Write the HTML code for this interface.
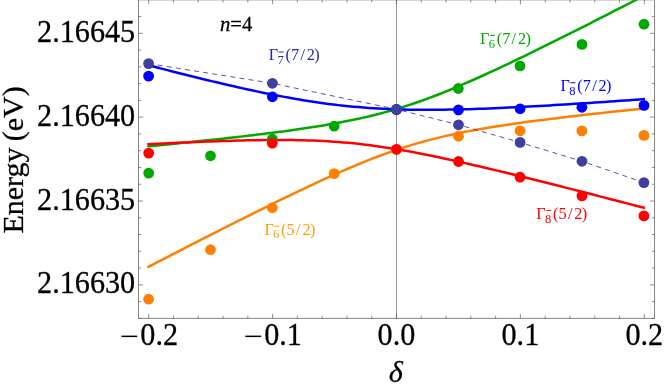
<!DOCTYPE html>
<html><head><meta charset="utf-8"><title>chart</title>
<style>
html,body{margin:0;padding:0;background:#fff;}
body{width:664px;height:390px;overflow:hidden;}
svg{display:block;font-family:"Liberation Serif",serif;will-change:transform;}
</style></head><body>
<svg width="664" height="390" viewBox="0 0 664 390">
<rect width="664" height="390" fill="#fff"/>
<!-- zero line -->
<line x1="396.5" y1="0" x2="396.5" y2="318.4" stroke="#808080" stroke-width="0.8"/>
<!-- curves -->
<g fill="none" stroke-width="2.5" stroke-linecap="butt" stroke-linejoin="round">
<path d="M147.30,267.43 L152.33,264.83 L157.35,262.23 L162.38,259.64 L167.41,257.05 L172.44,254.46 L177.46,251.87 L182.49,249.28 L187.52,246.70 L192.55,244.13 L197.57,241.55 L202.60,238.98 L207.63,236.42 L212.65,233.86 L217.68,231.30 L222.71,228.75 L227.74,226.21 L232.76,223.67 L237.79,221.14 L242.82,218.61 L247.85,216.09 L252.87,213.58 L257.90,211.08 L262.93,208.59 L267.95,206.10 L272.98,203.63 L278.01,201.16 L283.04,198.71 L288.06,196.27 L293.09,193.85 L298.12,191.44 L303.15,189.05 L308.17,186.67 L313.20,184.31 L318.23,181.98 L323.25,179.66 L328.28,177.37 L333.31,175.11 L338.34,172.87 L343.36,170.67 L348.39,168.50 L353.42,166.36 L358.45,164.26 L363.47,162.20 L368.50,160.18 L373.53,158.21 L378.55,156.29 L383.58,154.42 L388.61,152.60 L393.64,150.84 L398.66,149.14 L403.69,147.49 L408.72,145.90 L413.75,144.37 L418.77,142.90 L423.80,141.49 L428.83,140.14 L433.85,138.84 L438.88,137.59 L443.91,136.40 L448.94,135.26 L453.96,134.16 L458.99,133.11 L464.02,132.09 L469.05,131.12 L474.07,130.18 L479.10,129.28 L484.13,128.40 L489.15,127.56 L494.18,126.74 L499.21,125.95 L504.24,125.17 L509.26,124.42 L514.29,123.69 L519.32,122.98 L524.35,122.28 L529.37,121.60 L534.40,120.93 L539.43,120.28 L544.45,119.64 L549.48,119.01 L554.51,118.39 L559.54,117.77 L564.56,117.17 L569.59,116.58 L574.62,115.99 L579.65,115.42 L584.67,114.84 L589.70,114.28 L594.73,113.72 L599.75,113.17 L604.78,112.62 L609.81,112.07 L614.84,111.54 L619.86,111.00 L624.89,110.47 L629.92,109.94 L634.95,109.42 L639.97,108.90 L645.00,108.39" stroke="#ff8000"/>
<path d="M147.30,146.38 L152.33,145.89 L157.35,145.39 L162.38,144.90 L167.41,144.40 L172.44,143.89 L177.46,143.39 L182.49,142.88 L187.52,142.36 L192.55,141.85 L197.57,141.32 L202.60,140.80 L207.63,140.26 L212.65,139.73 L217.68,139.18 L222.71,138.64 L227.74,138.08 L232.76,137.52 L237.79,136.95 L242.82,136.37 L247.85,135.79 L252.87,135.19 L257.90,134.59 L262.93,133.97 L267.95,133.35 L272.98,132.71 L278.01,132.06 L283.04,131.40 L288.06,130.72 L293.09,130.02 L298.12,129.31 L303.15,128.58 L308.17,127.83 L313.20,127.05 L318.23,126.25 L323.25,125.43 L328.28,124.57 L333.31,123.69 L338.34,122.77 L343.36,121.82 L348.39,120.83 L353.42,119.80 L358.45,118.73 L363.47,117.61 L368.50,116.45 L373.53,115.23 L378.55,113.96 L383.58,112.64 L388.61,111.26 L393.64,109.82 L398.66,108.32 L403.69,106.76 L408.72,105.15 L413.75,103.47 L418.77,101.74 L423.80,99.96 L428.83,98.11 L433.85,96.22 L438.88,94.28 L443.91,92.29 L448.94,90.26 L453.96,88.18 L458.99,86.06 L464.02,83.91 L469.05,81.73 L474.07,79.51 L479.10,77.26 L484.13,74.99 L489.15,72.69 L494.18,70.37 L499.21,68.03 L504.24,65.66 L509.26,63.28 L514.29,60.88 L519.32,58.47 L524.35,56.04 L529.37,53.60 L534.40,51.15 L539.43,48.68 L544.45,46.20 L549.48,43.72 L554.51,41.22 L559.54,38.71 L564.56,36.20 L569.59,33.68 L574.62,31.15 L579.65,28.62 L584.67,26.08 L589.70,23.53 L594.73,20.98 L599.75,18.43 L604.78,15.86 L609.81,13.30 L614.84,10.73 L619.86,8.15 L624.89,5.58 L629.92,2.99 L634.95,0.41 L639.97,-2.18 L645.00,-4.77" stroke="#00a900"/>
<path d="M147.30,144.27 L152.33,144.02 L157.35,143.77 L162.38,143.53 L167.41,143.30 L172.44,143.06 L177.46,142.83 L182.49,142.61 L187.52,142.39 L192.55,142.18 L197.57,141.98 L202.60,141.78 L207.63,141.58 L212.65,141.40 L217.68,141.22 L222.71,141.05 L227.74,140.90 L232.76,140.75 L237.79,140.61 L242.82,140.48 L247.85,140.37 L252.87,140.27 L257.90,140.18 L262.93,140.11 L267.95,140.06 L272.98,140.03 L278.01,140.01 L283.04,140.02 L288.06,140.05 L293.09,140.10 L298.12,140.18 L303.15,140.29 L308.17,140.43 L313.20,140.61 L318.23,140.81 L323.25,141.05 L328.28,141.33 L333.31,141.65 L338.34,142.01 L343.36,142.41 L348.39,142.85 L353.42,143.34 L358.45,143.86 L363.47,144.44 L368.50,145.05 L373.53,145.71 L378.55,146.40 L383.58,147.14 L388.61,147.91 L393.64,148.72 L398.66,149.56 L403.69,150.44 L408.72,151.35 L413.75,152.28 L418.77,153.25 L423.80,154.24 L428.83,155.25 L433.85,156.28 L438.88,157.33 L443.91,158.41 L448.94,159.50 L453.96,160.60 L458.99,161.72 L464.02,162.86 L469.05,164.00 L474.07,165.16 L479.10,166.33 L484.13,167.51 L489.15,168.70 L494.18,169.90 L499.21,171.11 L504.24,172.32 L509.26,173.54 L514.29,174.77 L519.32,176.01 L524.35,177.25 L529.37,178.49 L534.40,179.74 L539.43,181.00 L544.45,182.26 L549.48,183.52 L554.51,184.79 L559.54,186.06 L564.56,187.34 L569.59,188.61 L574.62,189.89 L579.65,191.18 L584.67,192.47 L589.70,193.76 L594.73,195.05 L599.75,196.34 L604.78,197.64 L609.81,198.94 L614.84,200.24 L619.86,201.54 L624.89,202.85 L629.92,204.15 L634.95,205.46 L639.97,206.77 L645.00,208.08" stroke="#ff0000"/>
<path d="M147.30,64.94 L152.33,66.25 L157.35,67.55 L162.38,68.85 L167.41,70.14 L172.44,71.42 L177.46,72.70 L182.49,73.97 L187.52,75.23 L192.55,76.48 L197.57,77.72 L202.60,78.95 L207.63,80.17 L212.65,81.38 L217.68,82.58 L222.71,83.76 L227.74,84.94 L232.76,86.09 L237.79,87.23 L242.82,88.36 L247.85,89.47 L252.87,90.56 L257.90,91.63 L262.93,92.68 L267.95,93.70 L272.98,94.71 L278.01,95.69 L283.04,96.64 L288.06,97.57 L293.09,98.47 L298.12,99.34 L303.15,100.18 L308.17,100.99 L313.20,101.77 L318.23,102.51 L323.25,103.22 L328.28,103.89 L333.31,104.52 L338.34,105.12 L343.36,105.67 L348.39,106.19 L353.42,106.68 L358.45,107.12 L363.47,107.53 L368.50,107.90 L373.53,108.23 L378.55,108.53 L383.58,108.80 L388.61,109.03 L393.64,109.22 L398.66,109.39 L403.69,109.53 L408.72,109.63 L413.75,109.71 L418.77,109.77 L423.80,109.80 L428.83,109.80 L433.85,109.79 L438.88,109.75 L443.91,109.69 L448.94,109.61 L453.96,109.52 L458.99,109.41 L464.02,109.28 L469.05,109.14 L474.07,108.98 L479.10,108.81 L484.13,108.63 L489.15,108.44 L494.18,108.23 L499.21,108.02 L504.24,107.79 L509.26,107.56 L514.29,107.31 L519.32,107.06 L524.35,106.81 L529.37,106.54 L534.40,106.27 L539.43,105.99 L544.45,105.70 L549.48,105.41 L554.51,105.11 L559.54,104.81 L564.56,104.50 L569.59,104.19 L574.62,103.87 L579.65,103.55 L584.67,103.23 L589.70,102.90 L594.73,102.57 L599.75,102.23 L604.78,101.89 L609.81,101.55 L614.84,101.20 L619.86,100.86 L624.89,100.51 L629.92,100.15 L634.95,99.79 L639.97,99.44 L645.00,99.07" stroke="#0000ff"/>
</g>
<polyline points="148.6,63.6 272.4,83.3 396.5,109.3 458.5,124.8 520.1,142.4 582.0,161.3 643.9,182.6" fill="none" stroke="#3f3f9f" stroke-width="0.9" stroke-dasharray="5 4.2"/>
<!-- points -->
<circle cx="148.6" cy="299.2" r="5.4" fill="#ff8000"/>
<circle cx="210.5" cy="249.7" r="5.4" fill="#ff8000"/>
<circle cx="272.3" cy="207.7" r="5.4" fill="#ff8000"/>
<circle cx="334.2" cy="173.6" r="5.4" fill="#ff8000"/>
<circle cx="396.5" cy="149.4" r="5.4" fill="#ff8000"/>
<circle cx="458.5" cy="136.2" r="5.4" fill="#ff8000"/>
<circle cx="520.1" cy="130.8" r="5.4" fill="#ff8000"/>
<circle cx="581.9" cy="130.9" r="5.4" fill="#ff8000"/>
<circle cx="644.0" cy="135.4" r="5.4" fill="#ff8000"/>
<circle cx="148.7" cy="173.1" r="5.4" fill="#00a900"/>
<circle cx="210.5" cy="155.8" r="5.4" fill="#00a900"/>
<circle cx="272.3" cy="139.1" r="5.4" fill="#00a900"/>
<circle cx="334.2" cy="126.1" r="5.4" fill="#00a900"/>
<circle cx="396.5" cy="109.5" r="5.4" fill="#00a900"/>
<circle cx="458.3" cy="88.5" r="5.4" fill="#00a900"/>
<circle cx="520.0" cy="65.9" r="5.4" fill="#00a900"/>
<circle cx="582.0" cy="44.4" r="5.4" fill="#00a900"/>
<circle cx="644.0" cy="24.2" r="5.4" fill="#00a900"/>
<circle cx="148.7" cy="153.1" r="5.4" fill="#ff0000"/>
<circle cx="272.3" cy="143.2" r="5.4" fill="#ff0000"/>
<circle cx="396.5" cy="149.3" r="5.4" fill="#ff0000"/>
<circle cx="458.5" cy="161.5" r="5.4" fill="#ff0000"/>
<circle cx="520.0" cy="177.1" r="5.4" fill="#ff0000"/>
<circle cx="582.0" cy="195.9" r="5.4" fill="#ff0000"/>
<circle cx="643.9" cy="215.9" r="5.4" fill="#ff0000"/>
<circle cx="148.6" cy="76.1" r="5.4" fill="#0000ff"/>
<circle cx="272.4" cy="96.8" r="5.4" fill="#0000ff"/>
<circle cx="396.5" cy="109.5" r="5.4" fill="#0000ff"/>
<circle cx="458.5" cy="109.9" r="5.4" fill="#0000ff"/>
<circle cx="520.1" cy="108.8" r="5.4" fill="#0000ff"/>
<circle cx="581.9" cy="107.3" r="5.4" fill="#0000ff"/>
<circle cx="644.0" cy="105.4" r="5.4" fill="#0000ff"/>
<circle cx="148.6" cy="63.6" r="5.4" fill="#3f3f9f"/>
<circle cx="272.4" cy="83.3" r="5.4" fill="#3f3f9f"/>
<circle cx="396.5" cy="109.3" r="5.4" fill="#3f3f9f"/>
<circle cx="458.5" cy="124.8" r="5.4" fill="#3f3f9f"/>
<circle cx="520.1" cy="142.4" r="5.4" fill="#3f3f9f"/>
<circle cx="582.0" cy="161.3" r="5.4" fill="#3f3f9f"/>
<circle cx="643.9" cy="182.6" r="5.4" fill="#3f3f9f"/>
<!-- frame -->
<g stroke="#777" stroke-width="0.9" fill="none">
<line x1="138.5" y1="0" x2="138.5" y2="318.4"/>
<line x1="138.5" y1="318.4" x2="654.55" y2="318.4"/>
<line x1="654.55" y1="0" x2="654.55" y2="318.4"/>
<line x1="138.5" y1="-0.18" x2="654.55" y2="-0.18"/>
</g>
<g stroke="#444" stroke-width="0.6" fill="none">
<line x1="148.70" y1="318.4" x2="148.70" y2="313.9"/>
<line x1="148.70" y1="-0.18" x2="148.70" y2="4.32"/>
<line x1="173.48" y1="318.4" x2="173.48" y2="315.7"/>
<line x1="173.48" y1="-0.18" x2="173.48" y2="2.52"/>
<line x1="198.26" y1="318.4" x2="198.26" y2="315.7"/>
<line x1="198.26" y1="-0.18" x2="198.26" y2="2.52"/>
<line x1="223.04" y1="318.4" x2="223.04" y2="315.7"/>
<line x1="223.04" y1="-0.18" x2="223.04" y2="2.52"/>
<line x1="247.82" y1="318.4" x2="247.82" y2="315.7"/>
<line x1="247.82" y1="-0.18" x2="247.82" y2="2.52"/>
<line x1="272.60" y1="318.4" x2="272.60" y2="313.9"/>
<line x1="272.60" y1="-0.18" x2="272.60" y2="4.32"/>
<line x1="297.38" y1="318.4" x2="297.38" y2="315.7"/>
<line x1="297.38" y1="-0.18" x2="297.38" y2="2.52"/>
<line x1="322.16" y1="318.4" x2="322.16" y2="315.7"/>
<line x1="322.16" y1="-0.18" x2="322.16" y2="2.52"/>
<line x1="346.94" y1="318.4" x2="346.94" y2="315.7"/>
<line x1="346.94" y1="-0.18" x2="346.94" y2="2.52"/>
<line x1="371.72" y1="318.4" x2="371.72" y2="315.7"/>
<line x1="371.72" y1="-0.18" x2="371.72" y2="2.52"/>
<line x1="396.50" y1="318.4" x2="396.50" y2="313.9"/>
<line x1="396.50" y1="-0.18" x2="396.50" y2="4.32"/>
<line x1="421.28" y1="318.4" x2="421.28" y2="315.7"/>
<line x1="421.28" y1="-0.18" x2="421.28" y2="2.52"/>
<line x1="446.06" y1="318.4" x2="446.06" y2="315.7"/>
<line x1="446.06" y1="-0.18" x2="446.06" y2="2.52"/>
<line x1="470.84" y1="318.4" x2="470.84" y2="315.7"/>
<line x1="470.84" y1="-0.18" x2="470.84" y2="2.52"/>
<line x1="495.62" y1="318.4" x2="495.62" y2="315.7"/>
<line x1="495.62" y1="-0.18" x2="495.62" y2="2.52"/>
<line x1="520.40" y1="318.4" x2="520.40" y2="313.9"/>
<line x1="520.40" y1="-0.18" x2="520.40" y2="4.32"/>
<line x1="545.18" y1="318.4" x2="545.18" y2="315.7"/>
<line x1="545.18" y1="-0.18" x2="545.18" y2="2.52"/>
<line x1="569.96" y1="318.4" x2="569.96" y2="315.7"/>
<line x1="569.96" y1="-0.18" x2="569.96" y2="2.52"/>
<line x1="594.74" y1="318.4" x2="594.74" y2="315.7"/>
<line x1="594.74" y1="-0.18" x2="594.74" y2="2.52"/>
<line x1="619.52" y1="318.4" x2="619.52" y2="315.7"/>
<line x1="619.52" y1="-0.18" x2="619.52" y2="2.52"/>
<line x1="644.30" y1="318.4" x2="644.30" y2="313.9"/>
<line x1="644.30" y1="-0.18" x2="644.30" y2="4.32"/>
<line x1="138.5" y1="318.39" x2="141.2" y2="318.39"/>
<line x1="654.55" y1="318.39" x2="651.8499999999999" y2="318.39"/>
<line x1="138.5" y1="301.62" x2="141.2" y2="301.62"/>
<line x1="654.55" y1="301.62" x2="651.8499999999999" y2="301.62"/>
<line x1="138.5" y1="284.85" x2="143.0" y2="284.85"/>
<line x1="654.55" y1="284.85" x2="650.05" y2="284.85"/>
<line x1="138.5" y1="268.08" x2="141.2" y2="268.08"/>
<line x1="654.55" y1="268.08" x2="651.8499999999999" y2="268.08"/>
<line x1="138.5" y1="251.31" x2="141.2" y2="251.31"/>
<line x1="654.55" y1="251.31" x2="651.8499999999999" y2="251.31"/>
<line x1="138.5" y1="234.54" x2="141.2" y2="234.54"/>
<line x1="654.55" y1="234.54" x2="651.8499999999999" y2="234.54"/>
<line x1="138.5" y1="217.77" x2="141.2" y2="217.77"/>
<line x1="654.55" y1="217.77" x2="651.8499999999999" y2="217.77"/>
<line x1="138.5" y1="201.00" x2="143.0" y2="201.00"/>
<line x1="654.55" y1="201.00" x2="650.05" y2="201.00"/>
<line x1="138.5" y1="184.23" x2="141.2" y2="184.23"/>
<line x1="654.55" y1="184.23" x2="651.8499999999999" y2="184.23"/>
<line x1="138.5" y1="167.46" x2="141.2" y2="167.46"/>
<line x1="654.55" y1="167.46" x2="651.8499999999999" y2="167.46"/>
<line x1="138.5" y1="150.69" x2="141.2" y2="150.69"/>
<line x1="654.55" y1="150.69" x2="651.8499999999999" y2="150.69"/>
<line x1="138.5" y1="133.92" x2="141.2" y2="133.92"/>
<line x1="654.55" y1="133.92" x2="651.8499999999999" y2="133.92"/>
<line x1="138.5" y1="117.15" x2="143.0" y2="117.15"/>
<line x1="654.55" y1="117.15" x2="650.05" y2="117.15"/>
<line x1="138.5" y1="100.38" x2="141.2" y2="100.38"/>
<line x1="654.55" y1="100.38" x2="651.8499999999999" y2="100.38"/>
<line x1="138.5" y1="83.61" x2="141.2" y2="83.61"/>
<line x1="654.55" y1="83.61" x2="651.8499999999999" y2="83.61"/>
<line x1="138.5" y1="66.84" x2="141.2" y2="66.84"/>
<line x1="654.55" y1="66.84" x2="651.8499999999999" y2="66.84"/>
<line x1="138.5" y1="50.07" x2="141.2" y2="50.07"/>
<line x1="654.55" y1="50.07" x2="651.8499999999999" y2="50.07"/>
<line x1="138.5" y1="33.30" x2="143.0" y2="33.30"/>
<line x1="654.55" y1="33.30" x2="650.05" y2="33.30"/>
<line x1="138.5" y1="16.53" x2="141.2" y2="16.53"/>
<line x1="654.55" y1="16.53" x2="651.8499999999999" y2="16.53"/>
</g>
<!-- labels -->
<g fill="#000" stroke="#000" stroke-width="0.28">
<text transform="translate(135.2,41.90) scale(1,1.07)" text-anchor="end" font-size="30.2">2.16645</text>
<text transform="translate(135.2,125.75) scale(1,1.07)" text-anchor="end" font-size="30.2">2.16640</text>
<text transform="translate(135.2,209.60) scale(1,1.07)" text-anchor="end" font-size="30.2">2.16635</text>
<text transform="translate(135.2,293.45) scale(1,1.07)" text-anchor="end" font-size="30.2">2.16630</text>
<rect x="121.50" y="335.6" width="15.8" height="1.5" stroke="none"/>
<text transform="translate(140.30,345.0) scale(1,1.07)" font-size="30.2">0.2</text>
<rect x="245.40" y="335.6" width="15.8" height="1.5" stroke="none"/>
<text transform="translate(264.20,345.0) scale(1,1.07)" font-size="30.2">0.1</text>
<text transform="translate(396.50,345.0) scale(1,1.07)" text-anchor="middle" font-size="30.2">0.0</text>
<text transform="translate(520.40,345.0) scale(1,1.07)" text-anchor="middle" font-size="30.2">0.1</text>
<text transform="translate(644.30,345.0) scale(1,1.07)" text-anchor="middle" font-size="30.2">0.2</text>
<text x="395.8" y="381.8" text-anchor="middle" font-size="30.2" font-style="italic">δ</text>
<text transform="translate(23,159.9) rotate(-90)" text-anchor="middle" font-size="30" word-spacing="-1.2">Energy (eV)</text>
<text x="220" y="30.6" font-size="20.6"><tspan font-style="italic">n</tspan>=4</text>
</g>
<g fill="#00a900" font-size="16.3" stroke="none"><text x="480" y="43.8">Γ</text><text x="488.7" y="47.5" font-size="12.6">6</text><rect x="490.0" y="34.9" width="4.8" height="1.0" stroke="none"/><text x="496.7" y="43.8">(</text><text x="502.2" y="43.8">7</text><text x="511.6" y="43.8">/</text><text x="518.0" y="43.8">2</text><text x="525.5" y="43.8">)</text></g>
<g fill="#2626ac" font-size="16.3" stroke="none"><text x="268.8" y="60.4">Γ</text><text x="277.5" y="64.1" font-size="12.6">7</text><rect x="278.8" y="51.5" width="4.8" height="1.0" stroke="none"/><text x="285.5" y="60.4">(</text><text x="291.0" y="60.4">7</text><text x="300.40000000000003" y="60.4">/</text><text x="306.8" y="60.4">2</text><text x="314.3" y="60.4">)</text></g>
<g fill="#0000ff" font-size="16.3" stroke="none"><text x="560.6" y="91.1">Γ</text><text x="569.3000000000001" y="94.8" font-size="12.6">8</text><rect x="570.6" y="82.19999999999999" width="4.8" height="1.0" stroke="none"/><text x="577.3000000000001" y="91.1">(</text><text x="582.8000000000001" y="91.1">7</text><text x="592.2" y="91.1">/</text><text x="598.6" y="91.1">2</text><text x="606.1" y="91.1">)</text></g>
<g fill="#ffa000" font-size="16.3" stroke="none"><text x="264.4" y="234.6">Γ</text><text x="273.09999999999997" y="238.29999999999998" font-size="12.6">6</text><rect x="274.4" y="225.7" width="4.8" height="1.0" stroke="none"/><text x="281.09999999999997" y="234.6">(</text><text x="286.59999999999997" y="234.6">5</text><text x="296.0" y="234.6">/</text><text x="302.4" y="234.6">2</text><text x="309.9" y="234.6">)</text></g>
<g fill="#ff0000" font-size="16.3" stroke="none"><text x="536.3" y="218.8">Γ</text><text x="545.0" y="222.5" font-size="12.6">8</text><rect x="546.3" y="209.9" width="4.8" height="1.0" stroke="none"/><text x="553.0" y="218.8">(</text><text x="558.5" y="218.8">5</text><text x="567.9" y="218.8">/</text><text x="574.3" y="218.8">2</text><text x="581.8" y="218.8">)</text></g>
</svg>
</body></html>
